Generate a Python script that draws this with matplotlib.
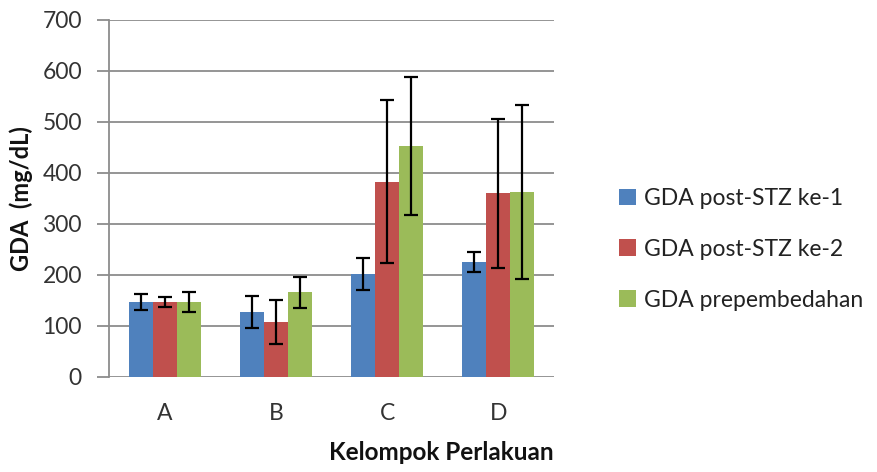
import matplotlib
matplotlib.use("Agg")
import matplotlib.pyplot as plt
import numpy as np

categories = ["A", "B", "C", "D"]
series_names = ["GDA post-STZ ke-1", "GDA post-STZ ke-2", "GDA prepembedahan"]
post1 = [147, 127, 202, 225]
post1_err = [16, 31, 31, 20]
post2 = [147, 108, 383, 360]
post2_err = [9, 43, 160, 146]
prebed = [147, 166, 453, 363]
prebed_err = [20, 31, 135, 171]
colors = ["#4F81BD", "#C0504D", "#9BBB59"]

plt.rcParams['font.family'] = ['Lato', 'DejaVu Sans']

fig = plt.figure(figsize=(8.77, 4.72), dpi=100)
ax = fig.add_axes([0.1243, 0.2013, 0.5074, 0.7564])

x = np.arange(len(categories))
w = 0.216
vals = [post1, post2, prebed]
errs = [post1_err, post2_err, prebed_err]
for i, (v, e) in enumerate(zip(vals, errs)):
    ax.bar(x + (i - 1) * w, v, w, color=colors[i], label=series_names[i], zorder=3,
           yerr=e, error_kw=dict(ecolor="black", elinewidth=1.6, capsize=5, capthick=1.6, zorder=4))

ax.set_xlim(-0.5, 3.5)
ax.set_ylim(0, 700)
ax.set_yticks(range(0, 701, 100))
ax.set_xticks(x)
ax.set_xticklabels(categories)
ax.yaxis.grid(True, color="#8c8c8c", linewidth=1.3, zorder=0)
for s in ["top", "right", "bottom"]:
    ax.spines[s].set_visible(False)
ax.spines["left"].set_color("#8c8c8c")
ax.spines["left"].set_linewidth(1.3)
ax.tick_params(axis="y", length=9, color="#8c8c8c", width=1.3, labelsize=16.5, labelcolor="#333333", pad=10.5)
ax.tick_params(axis="x", length=0, labelsize=16.5, labelcolor="#333333", pad=19)

ax.set_ylabel("GDA  (mg/dL)", fontsize=17, fontweight="bold", labelpad=7, color="#111111")
ax.set_xlabel("Kelompok Perlakuan", fontsize=17.5, fontweight="bold", labelpad=12, loc="right",
              color="#111111")

handles, labels = ax.get_legend_handles_labels()
fig.legend(handles, labels, loc="center left", bbox_to_anchor=(0.682, 0.472), frameon=False,
           fontsize=16.5, handlelength=0.75, handleheight=0.75, handletextpad=0.35, labelspacing=1.3,
           labelcolor="#222222")

fig.savefig("out.png", dpi=100)
